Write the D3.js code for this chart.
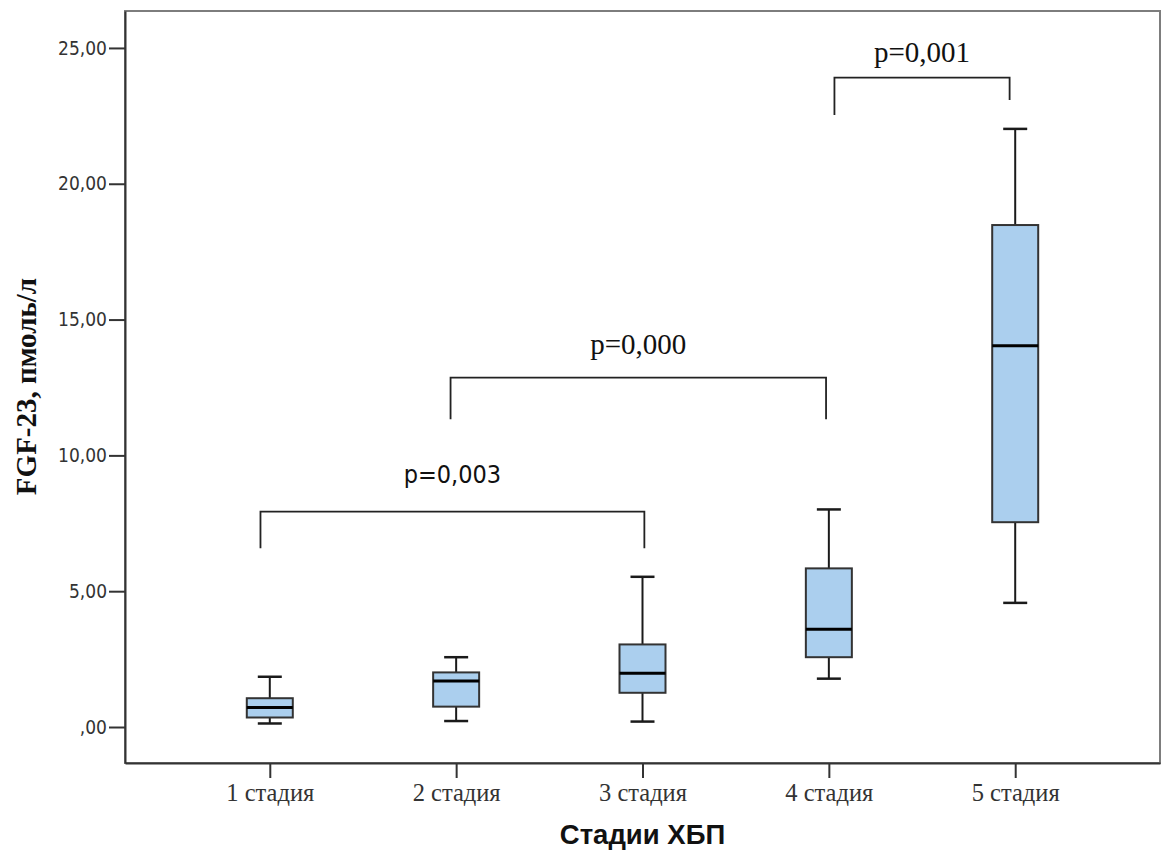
<!DOCTYPE html>
<html>
<head>
<meta charset="utf-8">
<script src="https://cdn.jsdelivr.net/npm/d3@7"></script>
<style>
  html, body { margin: 0; padding: 0; background: #fff; }
  svg { display: block; }
</style>
</head>
<body>
<svg id="chart" width="1165" height="853"></svg>
<script>
// FGF-23 by CKD stage: box-and-whisker summary per stage
const categories = ["1 стадия", "2 стадия", "3 стадия", "4 стадия", "5 стадия"];
const whiskerLow  = [0.13, 0.22, 0.20, 1.78, 4.57];
const q1          = [0.35, 0.75, 1.26, 2.57, 7.54];
const medians     = [0.72, 1.69, 1.98, 3.60, 14.04];
const q3          = [1.06, 2.01, 3.04, 5.84, 18.48];
const whiskerHigh = [1.85, 2.57, 5.53, 8.01, 22.02];

const yTicks = [0, 5, 10, 15, 20, 25];
const yTickLabels = [",00", "5,00", "10,00", "15,00", "20,00", "25,00"];

// significance brackets (stage index positions, values in pmol/l)
const bracketLeft     = [-0.05, 0.97, 3.03];
const bracketRight    = [2.01, 2.985, 3.97];
const bracketTop      = [7.93, 12.86, 23.91];
const bracketLeftEnd  = [6.58, 11.33, 22.53];
const bracketRightEnd = [6.58, 11.33, 23.08];
const pLabels         = ["p=0,003", "p=0,000", "p=0,001"];
const pLabelValue     = [8.98, 13.73, 24.5];

(function draw() {
  const svg = d3.select("#chart");
  const plotLeft = 125, plotRight = 1160, plotTop = 11, plotBottom = 763;

  const x = d3.scalePoint().domain(categories).range([plotLeft, plotRight]).padding(0.777);
  const xIdx = d3.scaleLinear().domain([0, categories.length - 1])
    .range([x(categories[0]), x(categories[categories.length - 1])]);
  const y = d3.scaleLinear().domain([-1.325, 26.36]).range([plotBottom, plotTop]);

  const boxW = 46, capW = 24;

  // plot frame
  svg.append("rect")
    .attr("x", plotLeft).attr("y", plotTop)
    .attr("width", plotRight - plotLeft).attr("height", plotBottom - plotTop)
    .attr("fill", "none").attr("stroke", "#7d7d7d").attr("stroke-width", 2);

  // y axis
  const yAxis = d3.axisLeft(y).tickValues(yTicks)
    .tickFormat((d, i) => yTickLabels[i]).tickSizeInner(16).tickSizeOuter(0).tickPadding(2);
  const gy = svg.append("g").attr("transform", `translate(${plotLeft},0)`).call(yAxis);
  gy.select(".domain").attr("stroke", "#333").attr("stroke-width", 2);
  gy.selectAll(".tick line").attr("stroke", "#333").attr("stroke-width", 2);
  gy.selectAll(".tick text")
    .attr("fill", "#333")
    .style("font-family", "'DejaVu Sans Condensed', 'DejaVu Sans', sans-serif")
    .style("font-stretch", "condensed")
    .style("font-size", "19px");

  // x axis
  const xAxis = d3.axisBottom(x).tickSizeInner(15).tickSizeOuter(0).tickPadding(6);
  const gx = svg.append("g").attr("transform", `translate(0,${plotBottom})`).call(xAxis);
  gx.select(".domain").attr("stroke", "#333").attr("stroke-width", 2);
  gx.selectAll(".tick line").attr("stroke", "#333").attr("stroke-width", 2);
  gx.selectAll(".tick text")
    .attr("fill", "#333")
    .style("font-family", "'Liberation Serif', 'Times New Roman', serif")
    .style("font-size", "24.5px");

  // boxes
  const rows = categories.map((c, i) => ({
    c, lo: whiskerLow[i], q1: q1[i], med: medians[i], q3: q3[i], hi: whiskerHigh[i]
  }));
  const g = svg.append("g").selectAll("g").data(rows).join("g");

  g.append("line")
    .attr("x1", d => x(d.c)).attr("x2", d => x(d.c))
    .attr("y1", d => y(d.hi)).attr("y2", d => y(d.q3))
    .attr("stroke", "#1a1a1a").attr("stroke-width", 2);
  g.append("line")
    .attr("x1", d => x(d.c)).attr("x2", d => x(d.c))
    .attr("y1", d => y(d.q1)).attr("y2", d => y(d.lo))
    .attr("stroke", "#1a1a1a").attr("stroke-width", 2);
  g.append("line")
    .attr("x1", d => x(d.c) - capW / 2).attr("x2", d => x(d.c) + capW / 2)
    .attr("y1", d => y(d.hi)).attr("y2", d => y(d.hi))
    .attr("stroke", "#1a1a1a").attr("stroke-width", 2.5);
  g.append("line")
    .attr("x1", d => x(d.c) - capW / 2).attr("x2", d => x(d.c) + capW / 2)
    .attr("y1", d => y(d.lo)).attr("y2", d => y(d.lo))
    .attr("stroke", "#1a1a1a").attr("stroke-width", 2.5);
  g.append("rect")
    .attr("x", d => x(d.c) - boxW / 2).attr("width", boxW)
    .attr("y", d => y(d.q3)).attr("height", d => y(d.q1) - y(d.q3))
    .attr("fill", "#abcfee").attr("stroke", "#333").attr("stroke-width", 2);
  g.append("line")
    .attr("x1", d => x(d.c) - boxW / 2).attr("x2", d => x(d.c) + boxW / 2)
    .attr("y1", d => y(d.med)).attr("y2", d => y(d.med))
    .attr("stroke", "#000").attr("stroke-width", 3);

  // significance brackets
  const br = pLabels.map((p, i) => ({
    p, l: bracketLeft[i], r: bracketRight[i], t: bracketTop[i],
    le: bracketLeftEnd[i], re: bracketRightEnd[i], lv: pLabelValue[i], i
  }));
  const bg = svg.append("g").selectAll("g").data(br).join("g");
  bg.append("path")
    .attr("d", d => `M${xIdx(d.l)},${y(d.le)}V${y(d.t)}H${xIdx(d.r)}V${y(d.re)}`)
    .attr("fill", "none").attr("stroke", "#222").attr("stroke-width", 1.8);
  bg.append("text")
    .attr("x", d => (xIdx(d.l) + xIdx(d.r)) / 2)
    .attr("y", d => y(d.lv))
    .attr("text-anchor", "middle")
    .attr("fill", "#111")
    .style("font-family", d => d.i === 0
      ? "'DejaVu Sans Condensed', 'DejaVu Sans', sans-serif"
      : "'Liberation Serif', 'Times New Roman', serif")
    .style("font-stretch", d => d.i === 0 ? "condensed" : "normal")
    .style("font-size", d => d.i === 0 ? "25px" : "29px")
    .text(d => d.p);

  // axis titles
  svg.append("text")
    .attr("transform", `translate(36,${(283 + 490) / 2}) rotate(-90)`)
    .attr("text-anchor", "middle")
    .attr("fill", "#111")
    .style("font-family", "'Liberation Serif', 'Times New Roman', serif")
    .style("font-weight", "bold")
    .style("font-size", "29px")
    .text("FGF-23, пмоль/л");

  svg.append("text")
    .attr("x", (plotLeft + plotRight) / 2)
    .attr("y", 844)
    .attr("text-anchor", "middle")
    .attr("fill", "#111")
    .style("font-family", "'Liberation Sans', Arial, sans-serif")
    .style("font-weight", "bold")
    .style("font-size", "27.5px")
    .text("Стадии ХБП");
})();
</script>
</body>
</html>
